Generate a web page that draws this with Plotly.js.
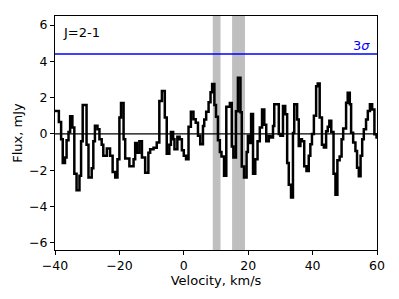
<!DOCTYPE html>
<html>
<head>
<meta charset="utf-8">
<script src="https://cdn.plot.ly/plotly-3.0.1.min.js"></script>
<style>html,body{margin:0;padding:0;background:#fff;}#chart{width:399px;height:299px;}</style>
</head>
<body>
<div id="chart"></div>
<script>
// Channel left edges (km/s) and flux (mJy)
const velocityEdges = [
  -40.0, -38.8, -38.1, -37.6, -36.9, -36.4, -35.8, -35.3, -34.6, -34.0,
  -33.3, -32.4, -31.9, -31.4, -30.2, -29.6, -28.6, -28.1, -27.6, -26.8,
  -26.2, -25.5, -25.0, -23.9, -22.9, -22.1, -21.3, -20.6, -20.0, -19.5,
  -18.7, -18.2, -16.9, -15.6, -15.1, -14.6, -13.8, -13.0, -12.0, -11.0,
  -10.45, -9.4, -8.4, -7.6, -6.8, -5.9, -5.3, -4.5, -4.0, -3.3,
  -2.9, -2.0, -1.3, -0.6, 0.0, 0.7, 1.47, 2.2, 3.0, 3.7,
  4.4, 5.1, 5.95, 6.35, 6.95, 7.7, 8.3, 8.8, 9.5, 10.0,
  10.6, 11.2, 11.7, 12.5, 13.2, 14.3, 14.9, 15.4, 16.2, 16.8,
  17.6, 18.0, 18.7, 19.5, 19.9, 20.5, 20.9, 21.5, 22.2, 22.9,
  23.6, 24.3, 25.0, 25.6, 26.4, 26.9, 27.7, 28.1, 29.5, 30.0,
  30.8, 31.5, 32.1, 32.6, 33.3, 33.9, 34.3, 35.2, 35.7, 36.2,
  36.7, 37.4, 38.1, 38.8, 39.3, 39.8, 40.4, 41.1, 41.6, 42.2,
  42.9, 43.5, 44.2, 44.7, 45.2, 45.8, 46.5, 47.1, 47.7, 48.4,
  49.0, 49.5, 50.4, 50.9, 51.55, 51.96, 52.6, 53.3, 53.8, 54.35,
  54.9, 55.4, 55.9, 56.6, 57.15, 57.8, 58.5, 59.2, 59.85
];
const velocityEnd = 60.5;
const flux = [
  1.26, 0.65, -0.3, -1.6, -1.3, -0.35, 0.1, 0.98, 0.35, -2.2,
  -3.1, -2.3, -0.4, 1.6, -0.6, -2.4, -1.9, -0.4, 0.45, 0.25,
  -0.3, -0.6, -1.2, -0.8, -1.2, -2.1, -2.4, -1.4, 0.9, 1.7,
  -0.3, -1.35, -1.78, -1.4, -0.5, -1.04, -0.4, -1.3, -2.14, -1.04,
  -0.85, -0.76, -0.48, 1.81, 2.37, 0.9, -1.1, -0.6, 0.1, -0.3,
  -0.84, -0.15, -0.3, -0.9, -1.2, -1.4, 0.4, 1.22, 0.81, 0.62,
  -0.1, -0.57, 0.43, 0.8, 1.22, 1.75, 2.3, 2.75, 1.6, 0.95,
  -0.35, -1.0, -1.25, -2.3, 1.5, 1.7, -0.7, -1.3, 1.25, 3.1,
  1.2, -1.8, -2.4, -1.0, -0.1, -0.5, 1.1, -2.2, -1.4, -0.4,
  0.35, 1.35, 0.5, -0.4, -0.12, -0.2, 0.43, 1.63, 0.0, -0.1,
  1.54, 1.08, -1.6, -2.8, -3.5, 0.05, 1.63, 0.8, -0.67, -0.3,
  -0.4, -1.78, -2.05, -1.2, -0.57, 0.0, 1.0, 2.63, 2.78, 0.9,
  -0.6, -0.75, 0.15, 0.4, 0.72, 0.1, -2.2, -3.35, -1.45, -1.25,
  -0.3, 0.3, 1.72, 2.27, 1.63, 0.06, -0.48, -0.94, -1.87, -2.33,
  -1.2, -0.3, 0.25, 0.8, 1.26, 1.63, 1.35, -0.02, -0.2
];
const sigmaLevel = 4.4;
const bands = [[9.0, 11.4], [15.0, 19.0]];
const xTicks = [-40, -20, 0, 20, 40, 60];
const yTicks = [-6, -4, -2, 0, 2, 4, 6];
const lineLabel = "J=2-1";

const xs = velocityEdges.concat([velocityEnd]);
const ys = flux.concat([flux[flux.length - 1]]);

const font = "DejaVu Sans, Liberation Sans, sans-serif";

const shapes = bands.map(b => ({
  type: 'rect', xref: 'x', yref: 'paper', x0: b[0], x1: b[1], y0: 0, y1: 1,
  fillcolor: 'rgba(128,128,128,0.5)', line: {width: 0}, layer: 'below'
}));
shapes.push({type: 'line', xref: 'paper', yref: 'y', x0: 0, x1: 1, y0: 0, y1: 0,
  line: {color: 'black', width: 1.2}});
shapes.push({type: 'line', xref: 'paper', yref: 'y', x0: 0, x1: 1, y0: sigmaLevel, y1: sigmaLevel,
  line: {color: 'blue', width: 1.5}});

const trace = {
  x: xs, y: ys, type: 'scatter', mode: 'lines',
  line: {shape: 'hv', color: 'black', width: 2.5},
  hoverinfo: 'skip', cliponaxis: true
};

const layout = {
  width: 399, height: 299,
  margin: {l: 55, r: 22, t: 16, b: 49},
  paper_bgcolor: 'white', plot_bgcolor: 'white',
  showlegend: false,
  font: {family: font, size: 12, color: 'black'},
  xaxis: {
    range: [-40, 60], tickvals: xTicks, ticktext: xTicks.map(v => v < 0 ? '\u2212' + Math.abs(v) : String(v)),
    showgrid: false, zeroline: false, showline: true, mirror: true, linecolor: 'black', linewidth: 1,
    ticks: 'outside', ticklen: 4, tickwidth: 1, tickcolor: 'black',
    tickfont: {family: font, size: 12.5},
    title: {text: 'Velocity, km/s', font: {family: font, size: 13}, standoff: 3}
  },
  yaxis: {
    range: [-6.4, 6.5], tickvals: yTicks, ticktext: yTicks.map(v => v < 0 ? '\u2212' + Math.abs(v) : String(v)),
    showgrid: false, zeroline: false, showline: true, mirror: true, linecolor: 'black', linewidth: 1,
    ticks: 'outside', ticklen: 4, tickwidth: 1, tickcolor: 'black',
    tickfont: {family: font, size: 12.5},
    title: {text: 'Flux, mJy', font: {family: font, size: 13}, standoff: 3}
  },
  shapes: shapes,
  annotations: [
    {xref: 'paper', yref: 'y', x: 0.985, y: sigmaLevel, xanchor: 'right', yanchor: 'bottom',
     text: '3<i>σ</i>', showarrow: false, font: {family: font, size: 13, color: 'blue'}, yshift: -1},
    {xref: 'paper', yref: 'paper', x: 0.018, y: 0.97, xanchor: 'left', yanchor: 'top',
     text: lineLabel, showarrow: false, font: {family: font, size: 13, color: 'black'}}
  ]
};

Plotly.newPlot('chart', [trace], layout, {displayModeBar: false, staticPlot: true});
</script>
</body>
</html>
